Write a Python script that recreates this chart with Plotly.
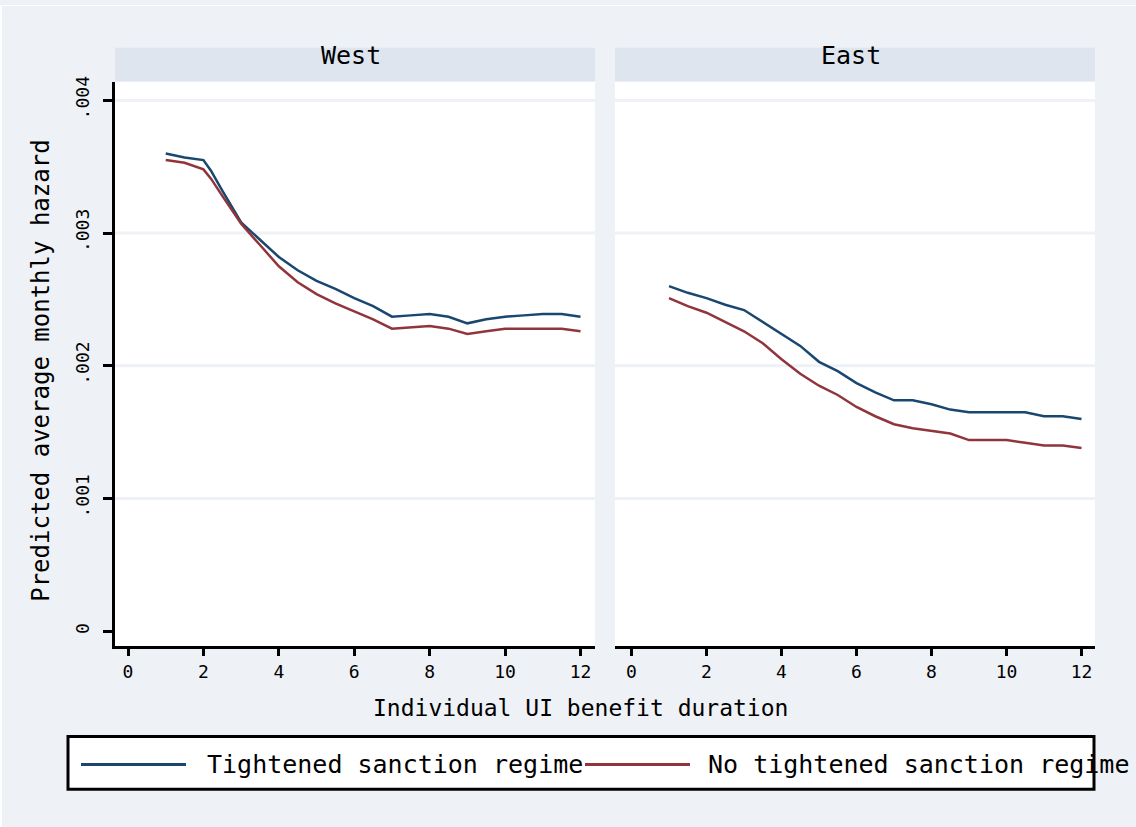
import plotly.graph_objects as go

# ---------------- data ----------------
west_x = [1, 1.5, 2, 2.2, 2.5, 3, 3.5, 4, 4.5, 5, 5.5, 6, 6.5, 7, 7.5, 8, 8.5, 9, 9.5, 10, 10.5, 11, 11.5, 12]
west_tight = [0.00360, 0.00357, 0.00355, 0.00347, 0.00332, 0.00308, 0.00295, 0.00282, 0.00272, 0.00264,
              0.00258, 0.00251, 0.00245, 0.00237, 0.00238, 0.00239, 0.00237, 0.00232, 0.00235, 0.00237,
              0.00238, 0.00239, 0.00239, 0.00237]
west_notight = [0.00355, 0.00353, 0.00348, 0.00341, 0.00328, 0.00307, 0.00291, 0.00275, 0.00263, 0.00254,
                0.00247, 0.00241, 0.00235, 0.00228, 0.00229, 0.00230, 0.00228, 0.00224, 0.00226, 0.00228,
                0.00228, 0.00228, 0.00228, 0.00226]

east_x = [1, 1.5, 2, 2.5, 3, 3.5, 4, 4.5, 5, 5.5, 6, 6.5, 7, 7.5, 8, 8.5, 9, 9.5, 10, 10.5, 11, 11.5, 12]
east_tight = [0.00260, 0.00255, 0.00251, 0.00246, 0.00242, 0.00233, 0.00224, 0.00215, 0.00203, 0.00196,
              0.00187, 0.00180, 0.00174, 0.00174, 0.00171, 0.00167, 0.00165, 0.00165, 0.00165, 0.00165,
              0.00162, 0.00162, 0.00160]
east_notight = [0.00251, 0.00245, 0.00240, 0.00233, 0.00226, 0.00217, 0.00205, 0.00194, 0.00185, 0.00178,
                0.00169, 0.00162, 0.00156, 0.00153, 0.00151, 0.00149, 0.00144, 0.00144, 0.00144, 0.00142,
                0.00140, 0.00140, 0.00138]

panels = ["West", "East"]
series_names = ["Tightened sanction regime", "No tightened sanction regime"]
x_ticks = [0, 2, 4, 6, 8, 10, 12]
y_ticks = [0, 0.001, 0.002, 0.003, 0.004]
y_tick_labels = ["0", ".001", ".002", ".003", ".004"]
y_grid = [0.001, 0.002, 0.003, 0.004]

# ---------------- styling ----------------
W, H = 1136, 827
BG = "#EEF1F6"
STRIP = "#DEE5EF"
NAVY = "#1A476F"
MAROON = "#90353B"
FONT = "DejaVu Sans Mono"


def px(xp):
    return xp / W


def py(yp):
    return 1 - yp / H


fig = go.Figure()

data = [
    ("x", "y", west_x, west_tight, west_notight),
    ("x2", "y2", east_x, east_tight, east_notight),
]
for xa, ya, xs, tight, notight in data:
    fig.add_trace(go.Scatter(x=xs, y=tight, mode="lines", line=dict(color=NAVY, width=2.5),
                             name=series_names[0], xaxis=xa, yaxis=ya, showlegend=False))
    fig.add_trace(go.Scatter(x=xs, y=notight, mode="lines", line=dict(color=MAROON, width=2.5),
                             name=series_names[1], xaxis=xa, yaxis=ya, showlegend=False))

y_dom = [py(645), py(77)]
y_range = [-0.000112, 0.004142]

xaxis_common = dict(
    tickvals=x_ticks, ticktext=[str(v) for v in x_ticks],
    showgrid=False, zeroline=False,
    showline=True, linecolor="black", linewidth=3,
    ticks="outside", ticklen=7, tickwidth=2.5, tickcolor="black",
    tickfont=dict(family=FONT, size=18, color="black"),
    fixedrange=True,
)

fig.update_layout(
    width=W, height=H, autosize=False,
    margin=dict(l=0, r=0, t=0, b=0),
    paper_bgcolor=BG, plot_bgcolor="white",
    xaxis=dict(domain=[px(115), px(595)], range=[-0.345, 12.384], anchor="y", **xaxis_common),
    xaxis2=dict(domain=[px(615), px(1095)], range=[-0.44, 12.36], anchor="y2", **xaxis_common),
    yaxis=dict(domain=y_dom, range=y_range, anchor="x",
               tickvals=y_ticks, ticktext=y_tick_labels, tickangle=-90,
               showgrid=False, zeroline=False,
               showline=True, linecolor="black", linewidth=2.5,
               ticks="outside", ticklen=9, tickwidth=2.5, tickcolor="black",
               ticklabelstandoff=7,
               tickfont=dict(family=FONT, size=18, color="black"),
               fixedrange=True),
    yaxis2=dict(domain=y_dom, range=y_range, anchor="x2", matches="y",
                showticklabels=False, showgrid=False, zeroline=False,
                showline=False, ticks="", fixedrange=True),
    showlegend=False,
)

shapes = []
# gridlines (no line at 0, as in the original)
for xref, yref in [("x domain", "y"), ("x2 domain", "y2")]:
    for g in y_grid:
        shapes.append(dict(type="line", xref=xref, yref=yref, x0=0, x1=1, y0=g, y1=g,
                           line=dict(color=BG, width=3), layer="below"))
# panel header strips
strip_bounds = [(115, 595), (615, 1095)]
for (x0, x1) in strip_bounds:
    shapes.append(dict(type="rect", xref="paper", yref="paper",
                       x0=px(x0), x1=px(x1), y0=py(77), y1=py(43),
                       fillcolor=STRIP, line=dict(width=0), layer="below"))
# legend box
shapes.append(dict(type="rect", xref="paper", yref="paper",
                   x0=px(68), x1=px(1094), y0=py(789), y1=py(736),
                   fillcolor="white", line=dict(color="black", width=3), layer="below"))
# legend keys
shapes.append(dict(type="line", xref="paper", yref="paper", x0=px(81), x1=px(186),
                   y0=py(764), y1=py(764), line=dict(color=NAVY, width=3)))
shapes.append(dict(type="line", xref="paper", yref="paper", x0=px(585), x1=px(690),
                   y0=py(764), y1=py(764), line=dict(color=MAROON, width=3)))
# thin white frame on top/left edges
shapes.append(dict(type="line", xref="paper", yref="paper", x0=px(1), x1=px(1), y0=0, y1=1,
                   line=dict(color="white", width=2)))
shapes.append(dict(type="line", xref="paper", yref="paper", x0=0, x1=1, y0=py(0.5), y1=py(0.5),
                   line=dict(color="white", width=1)))

annotations = []
for name, (x0, x1) in zip(panels, strip_bounds):
    annotations.append(dict(text=name, xref="paper", yref="paper", x=px((x0 + x1) / 2 - 4), y=py(51),
                            xanchor="center", yanchor="middle", showarrow=False,
                            font=dict(family=FONT, size=25, color="black")))
annotations.append(dict(text="Predicted average monthly hazard", xref="paper", yref="paper",
                        x=px(41), y=py(368), textangle=-90, xanchor="center", yanchor="middle",
                        showarrow=False, font=dict(family=FONT, size=24, color="black")))
annotations.append(dict(text="Individual UI benefit duration", xref="paper", yref="paper",
                        x=px(580), y=py(707), xanchor="center", yanchor="middle",
                        showarrow=False, font=dict(family=FONT, size=23, color="black")))
annotations.append(dict(text=series_names[0], xref="paper", yref="paper",
                        x=px(205), y=py(764), xanchor="left", yanchor="middle",
                        showarrow=False, font=dict(family=FONT, size=25, color="black")))
annotations.append(dict(text=series_names[1], xref="paper", yref="paper",
                        x=px(706), y=py(764), xanchor="left", yanchor="middle",
                        showarrow=False, font=dict(family=FONT, size=25, color="black")))

fig.update_layout(shapes=shapes, annotations=annotations)

fig.write_html(
    "out.html",
    config={"displayModeBar": False},
    post_script="document.body.style.margin='0';document.body.style.padding='0';"
                "document.documentElement.style.overflow='hidden';",
)
